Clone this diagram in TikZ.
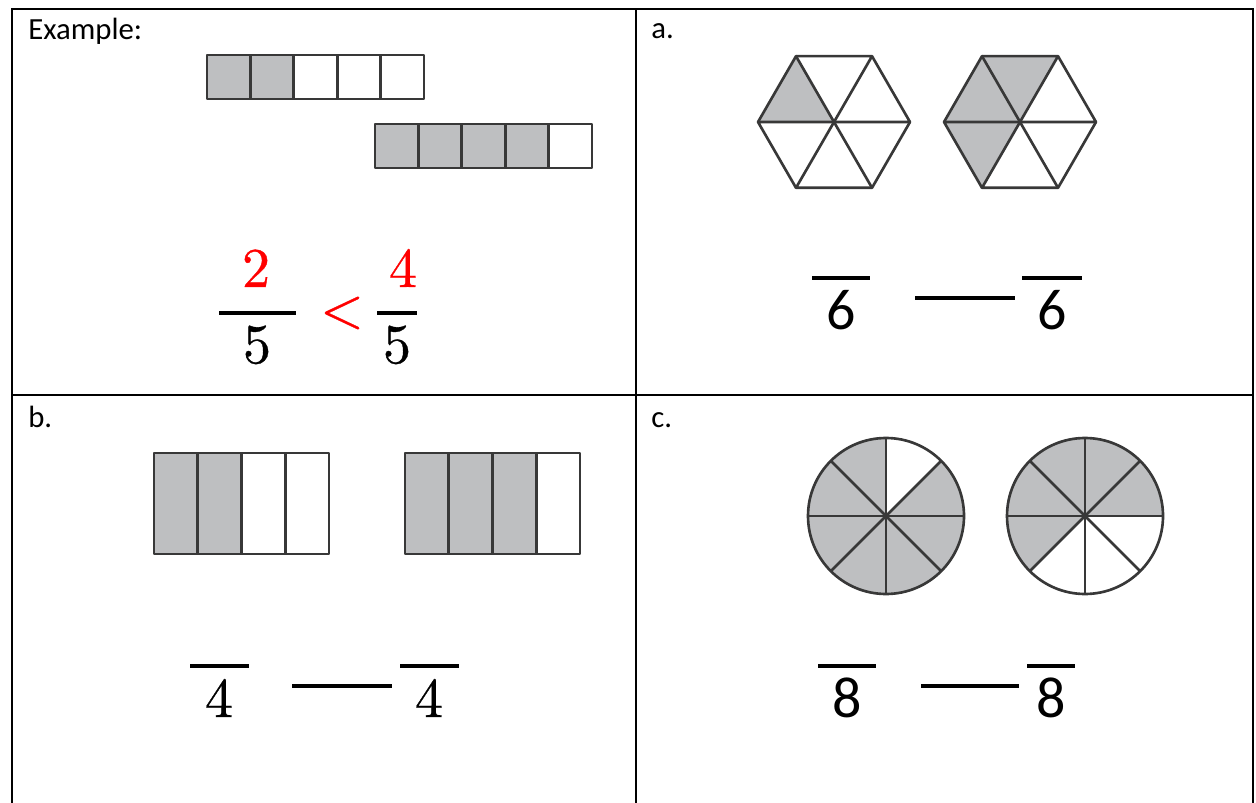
\documentclass[tikz,border=0pt]{standalone}
\usepackage{fontspec}
\newfontfamily\calibrifont{Carlito}
\newfontfamily\cambriafont[FakeBold=0.6]{lmroman10-regular.otf}
\definecolor{fracgray}{HTML}{BEBFC1}
\definecolor{edgegray}{HTML}{383838}
\tikzset{
  part/.style={draw=edgegray, line width=1.5pt, line join=round},
  rule/.style={line width=2.2pt},
  grid/.style={line width=1.4pt},
  tag/.style={anchor=base west, inner sep=0pt, font=\calibrifont\fontsize{17.5}{20}\selectfont},
  numeral/.style={anchor=base, inner sep=0pt, font=\cambriafont\fontsize{32}{36}\selectfont},
  sansnum/.style={anchor=base, inner sep=0pt, font=\calibrifont\fontsize{33}{36}\selectfont},
}
\begin{document}
\begin{tikzpicture}[x=0.02cm, y=0.02cm]
  \fill[white] (0,0) rectangle (1256,-803);
  \useasboundingbox (0,0) rectangle (1256,-803);
  % table
  \draw[grid] (12,-803) -- (12,-9) -- (1253,-9) -- (1253,-803);
  \draw[grid] (636,-9) -- (636,-803);
  \draw[grid] (12,-395) -- (1253,-395);

  % example
  \node[tag] (ex) at (28,-40) {Example:};
  \foreach \i in {0,1} \fill[fracgray] ({207+43.4*\i},-55) rectangle ++(43.4,-44);
  \foreach \i in {0,...,4} \draw[part] ({207+43.4*\i},-55) rectangle ++(43.4,-44);
  \foreach \i in {0,...,3} \fill[fracgray] ({375+43.4*\i},-124) rectangle ++(43.4,-44);
  \foreach \i in {0,...,4} \draw[part] ({375+43.4*\i},-124) rectangle ++(43.4,-44);
  \node[numeral, red] (num1) at (256,-287) {2};
  \draw[rule] (219,-313) -- (296,-313);
  \node[numeral] (den1) at (257,-363) {5};
  \node[numeral, red, anchor=center] (less) at (342,-313) {<};
  \node[numeral, red] (num2) at (403,-287) {4};
  \draw[rule] (377,-313) -- (417,-313);
  \node[numeral] (den2) at (397,-363) {5};

  % a.
  \node[tag] (parta) at (651,-39) {a.};
  \coordinate (hexa) at (834,-122);
  \coordinate (hexb) at (1020,-122);
  \fill[fracgray] (hexa) -- +(120:76) -- +(180:76) -- cycle;
  \foreach \a in {60,120,180} \fill[fracgray] (hexb) -- +(\a:76) -- +(\a+60:76) -- cycle;
  \foreach \p in {hexa,hexb}
    \foreach \a in {0,60,...,300}
      \draw[part] (\p) -- +(\a:76) -- +(\a+60:76);
  \draw[rule] (812,-278) -- (870,-278);
  \node[sansnum] (dena1) at (841,-330) {6};
  \draw[rule] (915,-298) -- (1015,-298);
  \draw[rule] (1022,-278) -- (1082,-278);
  \node[sansnum] (dena2) at (1052,-330) {6};

  % b.
  \node[tag] (partb) at (28,-427) {b.};
  \foreach \i in {0,1} \fill[fracgray] ({154+43.75*\i},-453) rectangle ++(43.75,-101);
  \foreach \i in {0,...,3} \draw[part] ({154+43.75*\i},-453) rectangle ++(43.75,-101);
  \foreach \i in {0,1,2} \fill[fracgray] ({405+43.75*\i},-453) rectangle ++(43.75,-101);
  \foreach \i in {0,...,3} \draw[part] ({405+43.75*\i},-453) rectangle ++(43.75,-101);
  \draw[rule] (190,-666) -- (249,-666);
  \node[numeral] (denb1) at (219,-717) {4};
  \draw[rule] (292,-686) -- (392,-686);
  \draw[rule] (400,-666) -- (459,-666);
  \node[numeral] (denb2) at (429,-717) {4};

  % c.
  \node[tag] (partc) at (651,-427) {c.};
  \coordinate (pie1) at (886,-516);
  \coordinate (pie2) at (1085,-516);
  \foreach \a in {0,90,135,180,225,270,315}
    \fill[fracgray] (pie1) -- +(\a:78) arc[start angle=\a, delta angle=45, radius=78] -- cycle;
  \foreach \a in {0,45,90,135,180}
    \fill[fracgray] (pie2) -- +(\a:78) arc[start angle=\a, delta angle=45, radius=78] -- cycle;
  \foreach \p in {pie1,pie2} {
    \draw[part] (\p) circle[radius=78];
    \foreach \a in {0,45,...,315} \draw[part] (\p) -- +(\a:78);
  }
  \draw[rule] (818,-666) -- (876,-666);
  \node[sansnum] (denc1) at (847,-717) {8};
  \draw[rule] (921,-686) -- (1019,-686);
  \draw[rule] (1027,-666) -- (1075,-666);
  \node[sansnum] (denc2) at (1051,-717) {8};
\end{tikzpicture}
\end{document}
